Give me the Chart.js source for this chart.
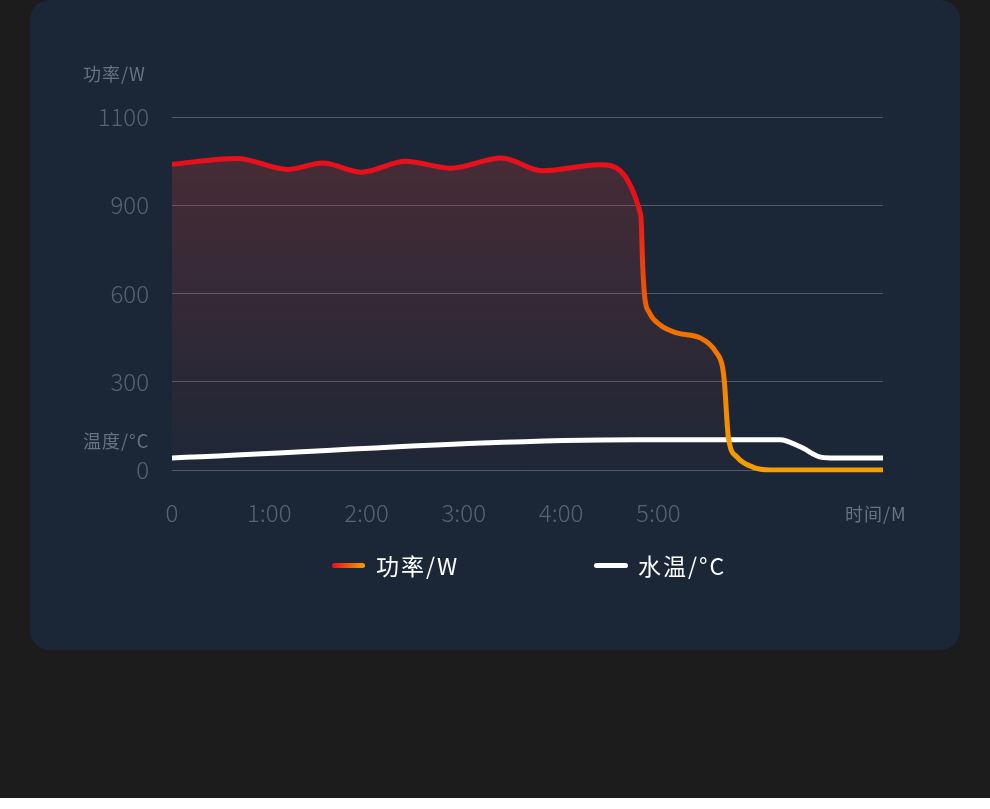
<!DOCTYPE html>
<html>
<head>
<meta charset="utf-8">
<script src="https://cdn.jsdelivr.net/npm/chart.js@4/dist/chart.umd.min.js"></script>
<style>
  body { margin: 0; background: #fff; font-family: "Noto Sans CJK SC", "Noto Sans", sans-serif; }
  .page { position: relative; width: 990px; height: 798px; background: #1c1c1c; overflow: hidden; }
  .card { position: absolute; left: 30px; top: 0; width: 930px; height: 650px; border-radius: 20px; background: #1b2737; }
  #myChart { position: absolute; left: 0; top: 0; }
  .unit { position: absolute; font-size: 18px; line-height: 24px; letter-spacing: 1px; color: #687381; white-space: nowrap; }
  .swatch { position: absolute; height: 5px; border-radius: 3px; }
  .leg { position: absolute; font-size: 23px; line-height: 30px; letter-spacing: 2px; color: #fff; white-space: nowrap; }
</style>
</head>
<body>
<div class="page">
  <div class="card"></div>
  <canvas id="myChart" width="990" height="620"></canvas>
  <div class="unit" style="left:83px;top:61px">功率/W</div>
  <div class="unit" style="left:83px;top:428px">温度/°C</div>
  <div class="unit" style="left:845px;top:501px">时间/M</div>
  <div class="swatch" style="left:332px;top:563px;width:33px;background:linear-gradient(90deg,#e8111b,#f59f00)"></div>
  <div class="leg" style="left:376px;top:550px">功率/W</div>
  <div class="swatch" style="left:594px;top:563px;width:34px;background:#fff"></div>
  <div class="leg" style="left:638px;top:550px">水温/°C</div>
</div>
<script>
// time in minutes
const powerTime = [0, 0.67, 1.19, 1.55, 1.95, 2.40, 2.86, 3.39, 3.81, 4.40, 4.82, 4.84, 4.86, 4.91, 5.02, 5.19, 5.43, 5.60, 5.66, 5.68, 5.72, 5.81, 5.97, 6.15, 7.31];
const powerValues = [993, 1006, 981, 996, 975, 1000, 984, 1007, 978, 992, 867, 690, 588, 534, 493, 466, 449, 398, 350, 296, 112, 44, 10, 0, 0];
const tempTime = [0, 4.78, 6.25, 6.46, 6.66, 6.77, 7.31];
const tempValues = [24, 60, 60, 46, 26, 24, 24];
const powerTicks = [0, 300, 600, 900, 1100];
const timeTicks = [0, 1, 2, 3, 4, 5];
const timeLabels = ['0', '1:00', '2:00', '3:00', '4:00', '5:00'];

// y axis with evenly spaced ticks (0,300,600,900,1100)
class BreakScale extends Chart.LinearScale {
  determineDataLimits() {
    this.min = powerTicks[0];
    this.max = powerTicks[powerTicks.length - 1];
  }
  buildTicks() {
    return powerTicks.map(v => ({ value: v }));
  }
  getPixelForValue(value) {
    const b = powerTicks, n = b.length - 1;
    let i = 0;
    while (i < n - 1 && value > b[i + 1]) i++;
    return this.getPixelForDecimal((i + (value - b[i]) / (b[i + 1] - b[i])) / n);
  }
  getValueForPixel(pixel) {
    const b = powerTicks, n = b.length - 1;
    const d = this.getDecimalForPixel(pixel) * n;
    const i = Math.min(Math.max(Math.floor(d), 0), n - 1);
    return b[i] + (d - i) * (b[i + 1] - b[i]);
  }
}
BreakScale.id = 'breaks';
BreakScale.defaults = Chart.LinearScale.defaults;
Chart.register(BreakScale);

const font = '"Noto Sans CJK SC", "Noto Sans", sans-serif';
const tickColor = '#58636f';

function lineGradient(context) {
  const area = context.chart.chartArea;
  if (!area) return '#e8111b';
  const g = context.chart.ctx.createLinearGradient(0, area.top, 0, area.bottom);
  g.addColorStop(0, '#e8111b');
  g.addColorStop(0.25, '#e8111b');
  g.addColorStop(0.6, '#f27000');
  g.addColorStop(1, '#f59f00');
  return g;
}

function fillGradient(context) {
  const area = context.chart.chartArea;
  if (!area) return 'rgba(215,60,50,0.2)';
  const g = context.chart.ctx.createLinearGradient(0, area.top, 0, area.bottom);
  g.addColorStop(0, 'rgba(215,60,50,0.26)');
  g.addColorStop(1, 'rgba(215,60,50,0.02)');
  return g;
}

const ctx = document.getElementById('myChart');
const chart = new Chart(ctx, {
  type: 'line',
  data: {
    datasets: [{
      label: '功率/W',
      data: powerTime.map((t, i) => ({ x: t, y: powerValues[i] })),
      yAxisID: 'y',
      borderColor: lineGradient,
      backgroundColor: fillGradient,
      fill: 'origin',
      borderWidth: 5,
      borderCapStyle: 'round',
      borderJoinStyle: 'round',
      cubicInterpolationMode: 'monotone',
      pointRadius: 0
    }, {
      label: '水温/°C',
      data: tempTime.map((t, i) => ({ x: t, y: tempValues[i] })),
      yAxisID: 'y1',
      borderColor: '#ffffff',
      borderWidth: 5,
      borderCapStyle: 'round',
      cubicInterpolationMode: 'monotone',
      pointRadius: 0,
      fill: false
    }]
  },
  options: {
    responsive: false,
    animation: false,
    layout: {
      padding: { left: 0, right: 107, top: 117, bottom: 0 }
    },
    plugins: {
      legend: { display: false },
      tooltip: { enabled: false },
      filler: { drawTime: 'beforeDatasetsDraw' }
    },
    scales: {
      x: {
        type: 'linear',
        min: 0,
        max: 7.31,
        grid: { display: false },
        border: { display: false },
        afterBuildTicks: s => { s.ticks = timeTicks.map(v => ({ value: v })); },
        afterFit: s => { s.height = 150; },
        ticks: {
          color: tickColor,
          font: { family: font, size: 24, weight: 300 },
          padding: 20,
          maxRotation: 0,
          autoSkip: false,
          callback: v => timeLabels[timeTicks.indexOf(v)]
        }
      },
      y: {
        type: 'breaks',
        position: 'left',
        grid: { color: 'rgba(255,255,255,0.24)', lineWidth: 1, drawTicks: false },
        border: { display: false },
        afterFit: s => { s.width = 172; },
        ticks: {
          color: tickColor,
          font: { family: font, size: 24, weight: 300 },
          padding: 23,
          callback: v => String(v)
        }
      },
      y1: {
        type: 'linear',
        display: false,
        min: 0,
        max: 700
      }
    }
  }
});
</script>
</body>
</html>
